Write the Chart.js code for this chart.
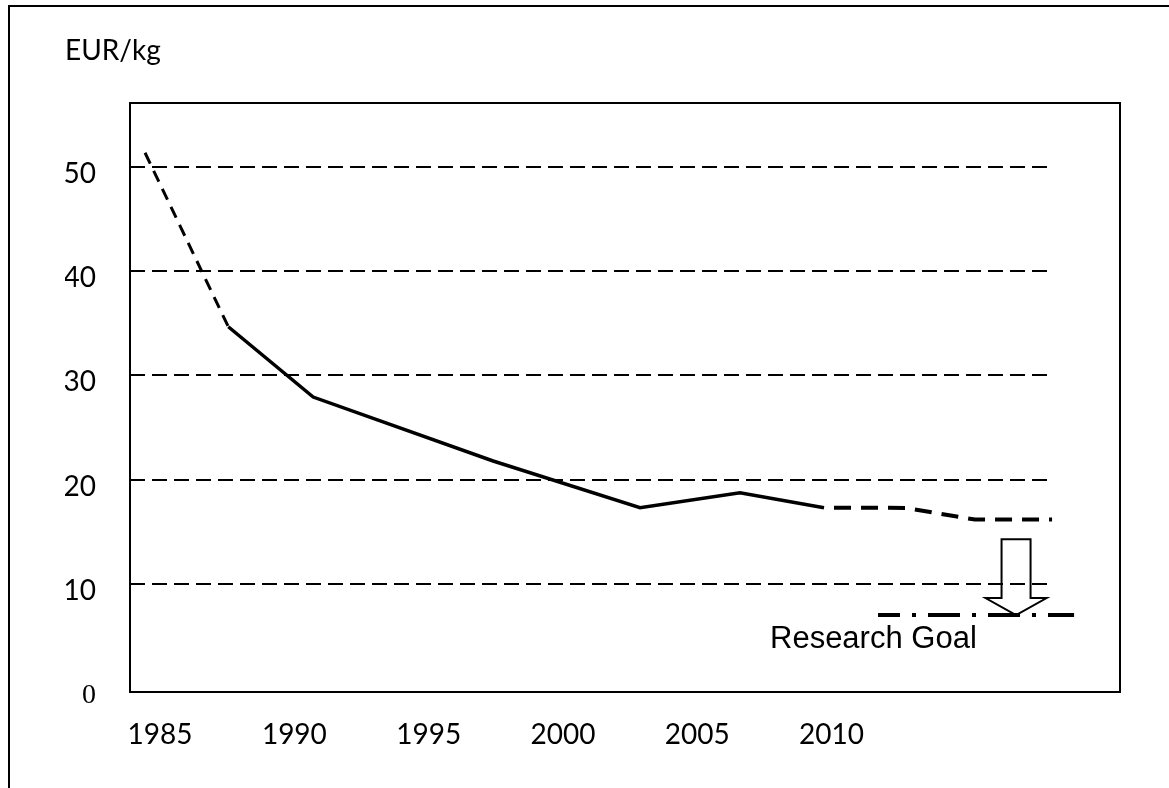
<!DOCTYPE html>
<html>
<head>
<meta charset="utf-8">
<script src="https://cdn.jsdelivr.net/npm/chart.js@4.4.1/dist/chart.umd.min.js"></script>
<style>
  html, body { margin: 0; padding: 0; background: #fff; overflow: hidden; }
  #frame { position: absolute; left: 8px; top: 5px; width: 1300px; height: 900px; border-top: 2px solid #000; border-left: 2px solid #000; }
  #chart { position: absolute; left: 0; top: 0; }
</style>
</head>
<body>
<div id="frame"></div>
<canvas id="chart" width="1169" height="788"></canvas>
<script>
// axis ticks
const tickYears = [1985, 1990, 1995, 2000, 2005, 2010];
const tickPrices = [0, 10, 20, 30, 40, 50];

// price curve, EUR/kg
const earlyYears = [1984.44, 1987.54];
const earlyPrices = [51.35, 34.67];
const historyYears = [1987.54, 1990.70, 1997.40, 2002.87, 2006.59, 2009.72];
const historyPrices = [34.67, 27.93, 21.8, 17.32, 18.75, 17.32];
const forecastYears = [2009.72, 2012.74, 2015.34, 2018.21];
const forecastPrices = [17.32, 17.3, 16.18, 16.18];

// research goal line + arrow
const goalYears = [2011.73, 2019.03];
const goalPrices = [7.03, 7.03];
const goalLabel = 'Research Goal';
const arrowYear = 2016.87;
const arrowFrom = 14.3;
const gridEndYear = 2018.06;

Chart.defaults.font.family = 'Lato, sans-serif';
Chart.defaults.color = '#000';

const pts = (xs, ys) => xs.map((v, i) => ({ x: v, y: ys[i] }));

const decorations = {
  id: 'decorations',
  beforeDatasetsDraw(chart) {
    const { ctx, chartArea: a, scales: { x, y } } = chart;
    ctx.save();
    ctx.strokeStyle = '#000';
    ctx.lineWidth = 2;
    ctx.setLineDash([15, 7]);
    const xEnd = x.getPixelForValue(gridEndYear);
    tickPrices.forEach(v => {
      if (v === 0) return;
      const py = Math.round(y.getPixelForValue(v));
      ctx.beginPath();
      ctx.moveTo(a.left, py);
      ctx.lineTo(xEnd, py);
      ctx.stroke();
    });
    ctx.setLineDash([]);
    ctx.strokeRect(a.left, a.top, a.right - a.left, a.bottom - a.top);
    ctx.restore();
  },
  afterDatasetsDraw(chart) {
    const { ctx, scales: { x, y } } = chart;
    const cx = x.getPixelForValue(arrowYear);
    const top = y.getPixelForValue(arrowFrom);
    const tip = y.getPixelForValue(goalPrices[0]);
    const shaft = 14.5, head = 30.5, headLen = 17;
    ctx.save();
    ctx.strokeStyle = '#000';
    ctx.lineWidth = 2;
    ctx.beginPath();
    ctx.moveTo(cx - shaft, top);
    ctx.lineTo(cx + shaft, top);
    ctx.lineTo(cx + shaft, tip - headLen);
    ctx.lineTo(cx + head, tip - headLen);
    ctx.lineTo(cx, tip);
    ctx.lineTo(cx - head, tip - headLen);
    ctx.lineTo(cx - shaft, tip - headLen);
    ctx.closePath();
    ctx.stroke();

    ctx.fillStyle = '#000';
    ctx.font = '31px "Liberation Sans", Arial, sans-serif';
    ctx.textAlign = 'left';
    ctx.textBaseline = 'alphabetic';
    ctx.fillText(goalLabel, x.getPixelForValue(goalYears[0]) - 108, tip + 33);
    ctx.restore();
  }
};

const lineBase = { borderColor: '#000', pointRadius: 0, tension: 0, fill: false, borderCapStyle: 'butt' };

new Chart(document.getElementById('chart'), {
  type: 'line',
  data: {
    datasets: [
      { ...lineBase, data: pts(earlyYears, earlyPrices), borderWidth: 3, borderDash: [12, 8] },
      { ...lineBase, data: pts(historyYears, historyPrices), borderWidth: 3.5 },
      { ...lineBase, data: pts(forecastYears, forecastPrices), borderWidth: 4, borderDash: [17, 10], borderDashOffset: 17 },
      { ...lineBase, data: pts(goalYears, goalPrices), borderWidth: 4, borderDash: [32, 12, 4, 12], borderDashOffset: 10 }
    ]
  },
  options: {
    responsive: false,
    animation: false,
    layout: { padding: { left: 65, right: 49, top: 0, bottom: 0 } },
    plugins: {
      legend: { display: false },
      tooltip: { enabled: false },
      title: {
        display: true,
        text: 'EUR/kg',
        align: 'start',
        color: '#000',
        font: { family: 'Lato', size: 28, weight: 'normal', lineHeight: 1.2 },
        padding: { top: 34, bottom: 35.4 }
      }
    },
    scales: {
      x: {
        type: 'linear',
        min: 1983.88,
        max: 2020.74,
        afterBuildTicks: s => { s.ticks = tickYears.map(v => ({ value: v })); },
        afterFit: s => { s.height = 96; },
        grid: { display: false, drawTicks: false },
        border: { display: false },
        ticks: {
          font: { family: 'Lato', size: 28 },
          padding: 26,
          maxRotation: 0,
          autoSkip: false,
          callback: v => String(v)
        }
      },
      y: {
        type: 'linear',
        min: -0.35,
        max: 56.12,
        afterBuildTicks: s => { s.ticks = tickPrices.map(v => ({ value: v })); },
        afterFit: s => { s.width = 65; },
        grid: { display: false, drawTicks: false },
        border: { display: false },
        ticks: {
          padding: 34,
          labelOffset: 7,
          font: c => (c.tick && c.tick.value === 0)
            ? { family: '"Liberation Serif", serif', size: 28 }
            : { family: 'Lato', size: 28 },
          callback: v => String(v)
        }
      }
    }
  },
  plugins: [decorations]
});
</script>
</body>
</html>
